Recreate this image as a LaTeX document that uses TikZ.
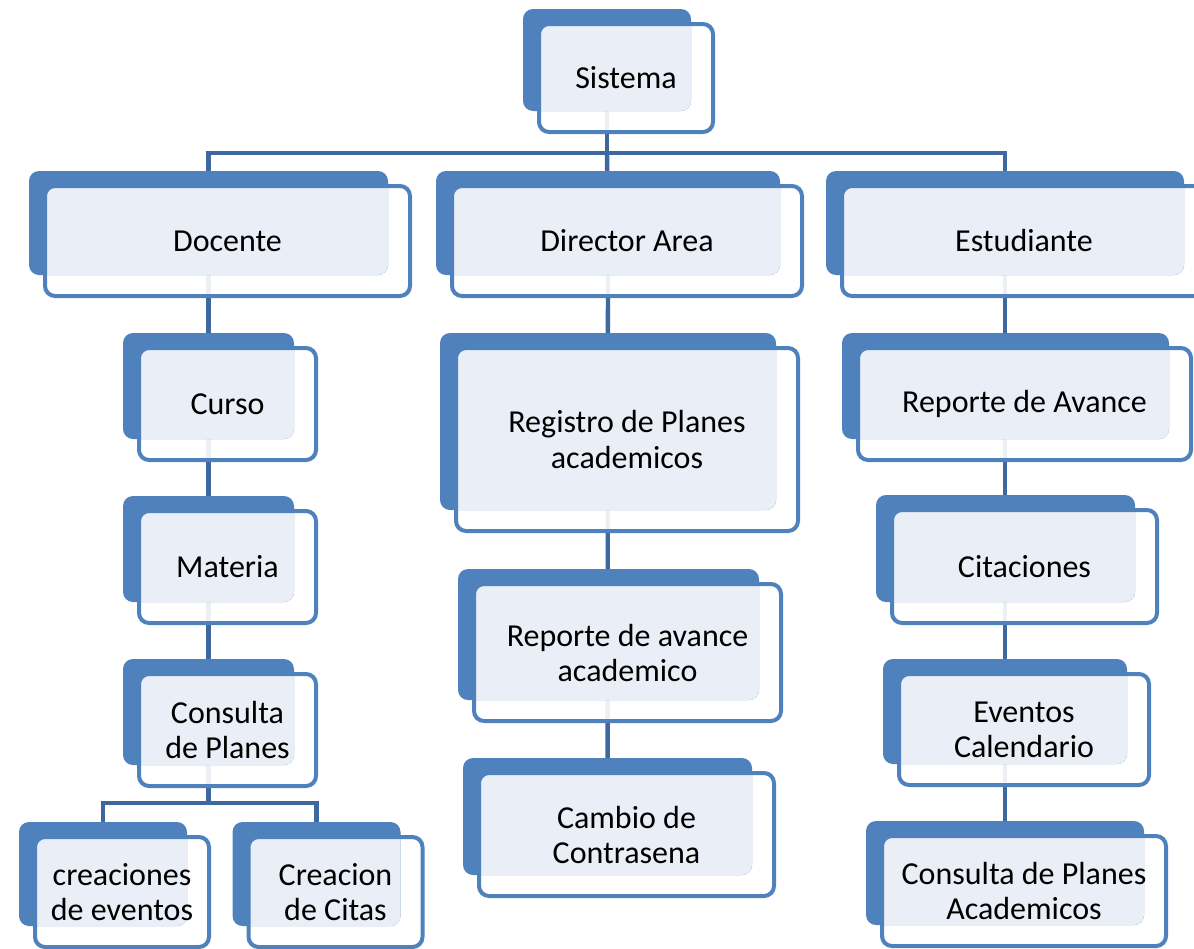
\documentclass[tikz,border=0pt]{standalone}
\usepackage{fontspec}
\setmainfont{Carlito}
\usepackage{tikz}
\usetikzlibrary{calc, positioning}
\definecolor{boxblue}{RGB}{79,129,189}
\definecolor{boxlight}{RGB}{234,239,247}
\definecolor{linkblue}{RGB}{62,104,160}
\pgfdeclarelayer{links}
\pgfdeclarelayer{plates}
\pgfsetlayers{links,plates,main}
\tikzset{
    item/.style={rectangle, draw=boxblue, line width=2pt, rounded corners=5pt, outer sep=0pt, inner sep=2pt, align=center, font=\fontsize{16}{17.5}\selectfont},
    link/.style={draw=linkblue, line width=2.2pt},
    plateback/.style={fill=boxblue, rounded corners=5pt},
    platelight/.style={fill=boxlight, rounded corners=5pt},
    plateblank/.style={fill=white, fill opacity=0.9, rounded corners=5pt}
}
% back plate and light fill of a box, drawn under it
\newcommand{\plate}[1]{%
    \begin{pgfonlayer}{plates}
        \fill[plateblank] (#1.north west) rectangle (#1.south east);
        \fill[plateback] ($(#1.north west)+(-16,-15)$) rectangle ($(#1.south east)+(-22,-21)$);
        \begin{scope}
            \clip[rounded corners=5pt] (#1.north west) rectangle (#1.south east);
            \fill[platelight] ($(#1.north west)+(-16,-15)$) rectangle ($(#1.south east)+(-22,-21)$);
        \end{scope}
    \end{pgfonlayer}}

\begin{document}
\begin{tikzpicture}[x=0.5pt, y=-0.5pt]
    \useasboundingbox (0,0) rectangle (1194,948);

    % Root
    \node[item, minimum width=87pt, minimum height=54pt] (sis) at (626,78) {Sistema};

    % Roles
    \node[item, minimum width=182.5pt, minimum height=55pt] (doc) at (227.5,241) {Docente};
    \node[item, minimum width=175pt, minimum height=55pt] (dir) at (627,241) {Director Area};
    \node[item, minimum width=182pt, minimum height=55pt] (est) at (1024,241) {Estudiante};

    % Docente
    \node[item, minimum width=88.5pt, minimum height=56pt] (cur) at (227.5,404) {Curso};
    \node[item, minimum width=88.5pt, minimum height=56pt] (mat) at (227.5,567) {Materia};
    \node[item, minimum width=88.5pt, minimum height=56pt] (con) at (227.5,730) {Consulta\\de Planes};
    \node[item, minimum width=87pt, minimum height=55pt] (cre) at (122,892) {creaciones\\de eventos};
    \node[item, minimum width=87pt, minimum height=55pt] (cit) at (335.5,892) {Creacion\\de Citas};

    % Director Area
    \node[item, minimum width=171pt, minimum height=91.5pt] (reg) at (627,439.5) {Registro de Planes\\academicos};
    \node[item, minimum width=153.5pt, minimum height=68.5pt] (rep) at (627.5,652.5) {Reporte de avance\\academico};
    \node[item, minimum width=147.5pt, minimum height=61.5pt] (cam) at (626.5,834.5) {Cambio de\\Contrasena};

    % Estudiante
    \node[item, minimum width=166.5pt, minimum height=56pt] (rav) at (1024.5,404) {Reporte de Avance};
    \node[item, minimum width=132.5pt, minimum height=56.5pt] (cita) at (1024.5,566.5) {Citaciones};
    \node[item, minimum width=125pt, minimum height=55.5pt] (eve) at (1024,729.5) {Eventos\\Calendario};
    \node[item, minimum width=142pt, minimum height=55pt] (cpa) at (1024,891) {Consulta de Planes\\Academicos};

    \foreach \n in {sis,doc,dir,est,cur,mat,con,cre,cit,reg,rep,cam,rav,cita,eve,cpa}
        \plate{\n};

    % Connectors
    \coordinate (bar) at (607,153);
    \coordinate (fork) at (208.5,803);
    \begin{pgfonlayer}{links}
        \draw[link] ($(sis)+(-19,0)$) -- (bar);
        \draw[link] ($(doc)+(-19,0)$) |- (bar) -| ($(est)+(-19,0)$);
        \draw[link] (bar) -- ($(dir)+(-19,0)$);
        \draw[link] ($(doc)+(-19,0)$) -- ($(con)+(-19,0)$) -- (fork);
        \draw[link] ($(cre)+(-19,0)$) |- (fork) -| ($(cit)+(-19,0)$);
        \draw[link] ($(dir)+(-19,0)$) -- ($(cam)+(-19,0)$);
        \draw[link] ($(est)+(-19,0)$) -- ($(cpa)+(-19,0)$);
    \end{pgfonlayer}
\end{tikzpicture}
\end{document}
